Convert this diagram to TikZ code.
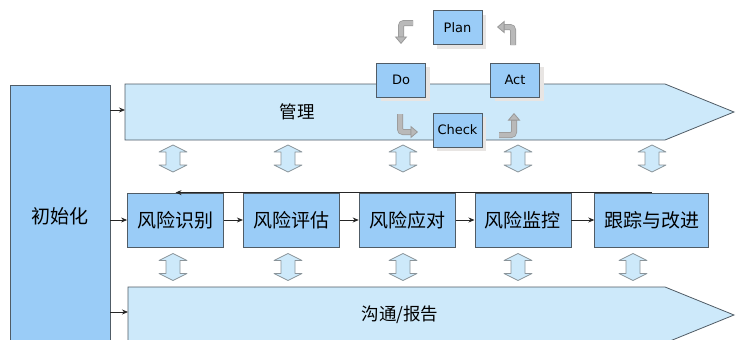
\documentclass[tikz,border=0pt]{standalone}
\usepackage{fontspec}
\setsansfont{DejaVu Sans}
\newfontfamily\cjk{Noto Sans CJK SC}
\usetikzlibrary{arrows.meta,positioning,shadows}
\definecolor{paleblue}{HTML}{CDE9FA}
\definecolor{boxblue}{HTML}{9ACCF7}
\definecolor{edgegray}{HTML}{505C66}
\definecolor{arrgray}{HTML}{8A949A}
\tikzset{
    %Define standard arrow tip
    >={Stealth[length=6pt,width=5pt]},
    %Define style for the stage boxes
    stage/.style={
           rectangle,
           fill=boxblue,
           draw=edgegray, thick,
           minimum width=96pt,
           minimum height=54pt,
           inner sep=0pt,
           font=\cjk\fontsize{19}{19}\selectfont},
    % PDCA boxes
    pdca/.style={rectangle,fill=boxblue,draw=edgegray,thick,minimum width=49pt,minimum height=34pt,inner sep=0pt,
           font=\sffamily\fontsize{13}{13}\selectfont,
           drop shadow={fill=brown!20!gray!20,shadow xshift=4pt,shadow yshift=-4pt,opacity=1}},
    % big arrow bands
    band/.style={fill=paleblue,draw=edgegray,thick},
    bandtext/.style={font=\cjk\fontsize{17.5}{17.5}\selectfont},
    % Define arrow style
    link/.style={
           ->,
           thick,
           draw=black!85},
    % bent PDCA arrows
    bendarr/.style={line width=4.5pt,draw=gray!55,rounded corners=3pt,
           -{Triangle[length=7.5pt,width=12.5pt,line width=0.8pt,color=gray!80,fill=gray!55]},
           preaction={-,draw=gray!80,line width=6pt,shorten >=6.5pt,rounded corners=3pt}},
    % two way block arrows
    dbl/.style={fill=paleblue,draw=arrgray,line width=0.8pt,line join=round},
    twoway/.pic={
       \draw[dbl] (0,-13.5) -- (14,-6.5) -- (7,-6.5) -- (7,6.5) -- (14,6.5) -- (0,13.5)
          -- (-14,6.5) -- (-7,6.5) -- (-7,-6.5) -- (-14,-6.5) -- cycle;}
}

\begin{document}
\begin{tikzpicture}[x=1pt,y=-1pt]
  \useasboundingbox (0,0) rectangle (737,340);
  \clip (0,0) rectangle (737,340);

  % initialisation
  \node[stage,minimum width=100pt,minimum height=262pt] (init) at (60,216) {初始化};

  % management and communication bands
  \draw[band] (125,84) -- (665,84) -- (734,112) -- (665,140) -- (125,140) -- cycle;
  \draw[band] (128,287) -- (665,287) -- (734,315) -- (665,343) -- (128,343) -- cycle;
  \node[bandtext] (mgmt) at (297,112) {管理};
  \node[bandtext] (comm) at (400,315) {沟通/报告};
  \coordinate (mgmtin) at (125,110);
  \coordinate (commin) at (128,312);

  % risk process
  \node[stage] (r1) at (175.5,220) {风险识别};
  \node[stage] (r2) [right=19pt of r1] {风险评估};
  \node[stage] (r3) [right=19pt of r2] {风险应对};
  \node[stage] (r4) [right=19pt of r3] {风险监控};
  \node[stage,minimum width=114pt] (r5) [right=23pt of r4] {跟踪与改进};

  \draw[link] (mgmtin -| init.east) -- (mgmtin);
  \draw[link] (commin -| init.east) -- (commin);
  \draw[link] (init.east |- r1.west) -- (r1.west);
  \path[link]
    (r1) edge (r2)
    (r2) edge (r3)
    (r3) edge (r4)
    (r4) edge (r5);
  \draw[link] (r5.north) -- (r1.north);

  % two way arrows
  \foreach \x in {173,288,403,518,652}
    \pic at (\x,158.5) {twoway};
  \foreach \x in {173,288,403,518,633}
    \pic at (\x,267) {twoway};

  % PDCA cycle
  \node[pdca] (plan) at (457.5,27.5) {Plan};
  \node[pdca] (do) at (401,80) {Do};
  \node[pdca] (act) at (515,80) {Act};
  \node[pdca] (check) at (457.5,130) {Check};
  \draw[bendarr] (413,23) -- (401,23) -- (401,44);
  \draw[bendarr] (513,45) -- (513,27) -- (497,27);
  \draw[bendarr] (400,114) -- (400,132) -- (418,132);
  \draw[bendarr] (499,135) -- (514,135) -- (514,113);
\end{tikzpicture}
\end{document}
